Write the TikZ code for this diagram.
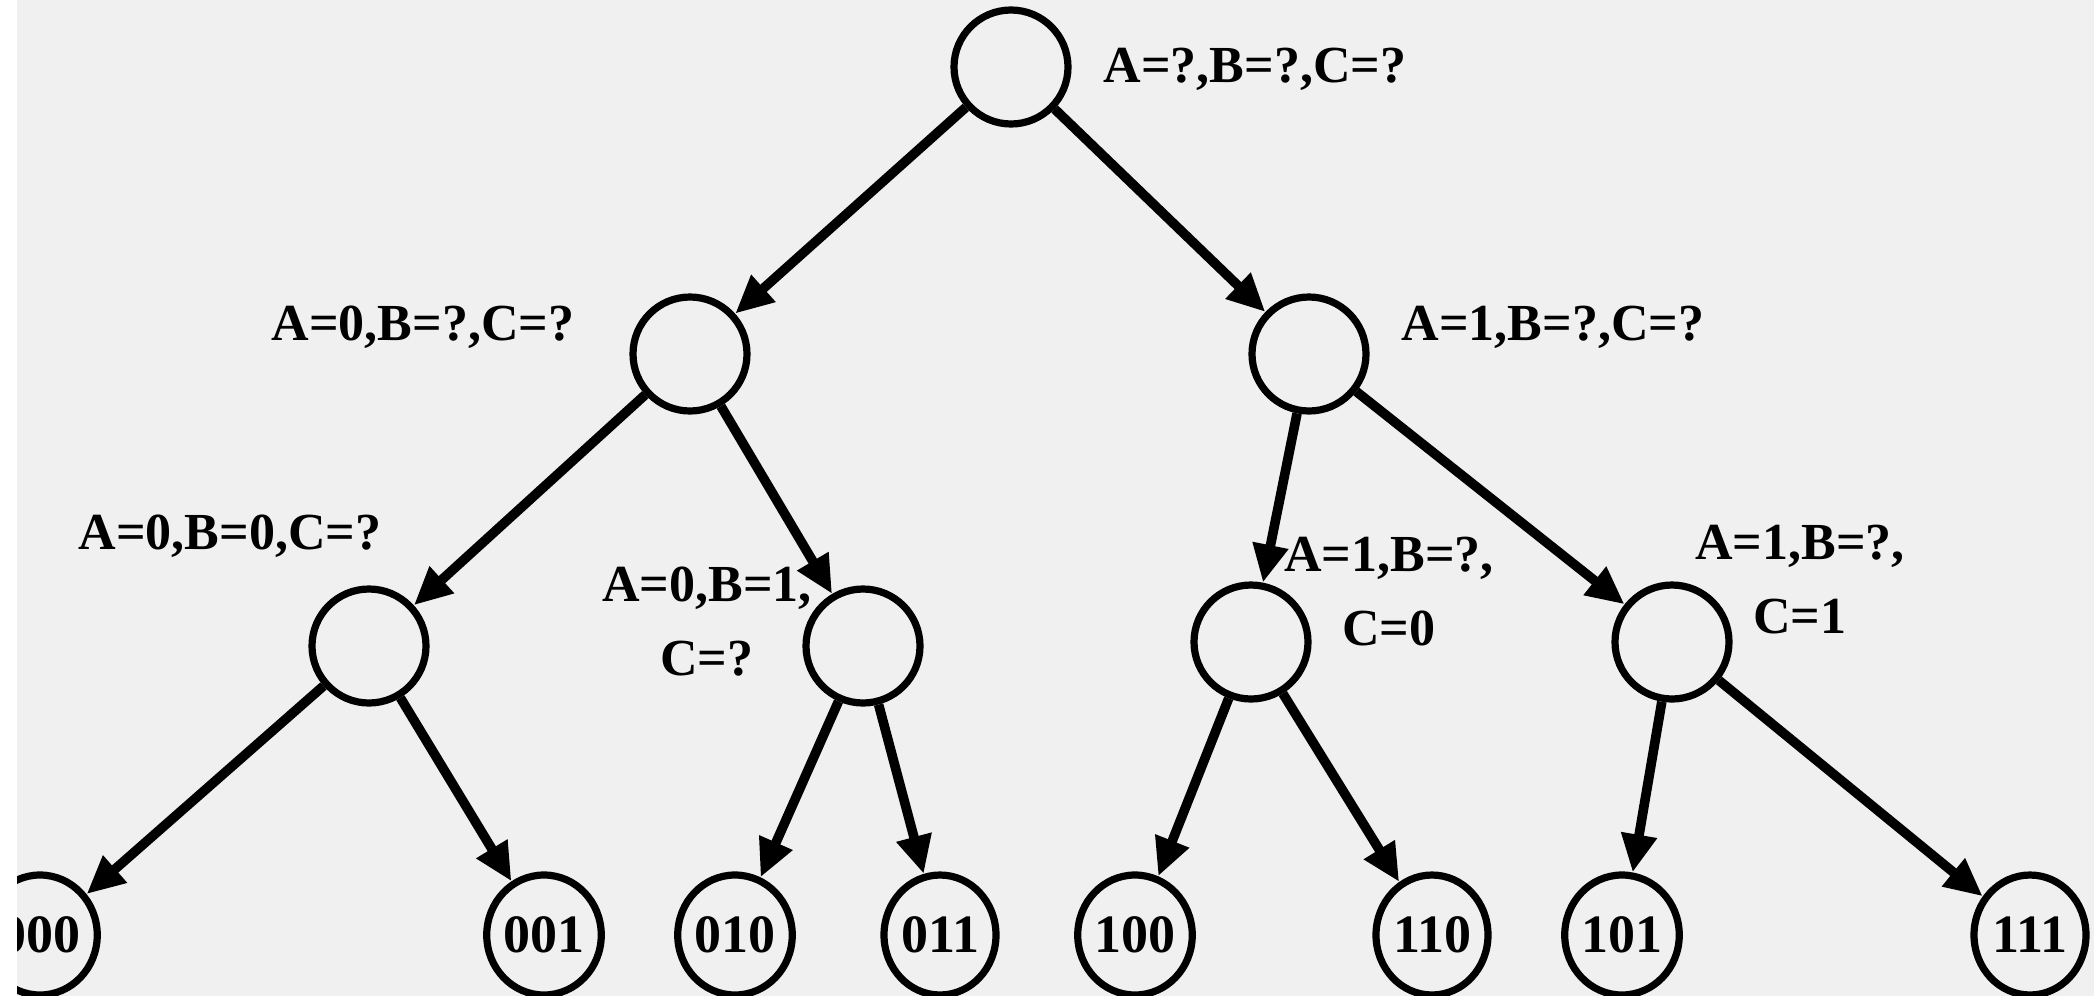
\documentclass[tikz,border=0pt]{standalone}
\usepackage{fontspec}
\setmainfont{Liberation Serif}
\usetikzlibrary{arrows.meta,shapes.geometric}
\definecolor{bg}{HTML}{F0F0F0}
\begin{document}
\begin{tikzpicture}[x=0.5pt,y=-0.5pt,
  inner/.style={circle,draw,line width=3.6pt,minimum size=57pt,inner sep=0pt},
  leaf/.style={ellipse,draw,line width=3.6pt,minimum width=56pt,minimum height=60pt,inner sep=0pt,font=\fontsize{27}{30}\selectfont\bfseries},
  lbl/.style={font=\fontsize{26}{37}\selectfont\bfseries,align=center,inner sep=0pt},
  edge/.style={-{Triangle[length=19pt,width=17pt]},line width=4.8pt}]
\useasboundingbox (0,0) rectangle (2094,996);
\fill[bg] (0,0) rectangle (2094,996);
\clip (0,0) rectangle (2094,996);
% inner nodes
\node[inner] (root) at (1011,67) {};
\node[inner] (a) at (690,354) {};
\node[inner] (b) at (1309,354) {};
\node[inner] (aa) at (369,646) {};
\node[inner] (ab) at (863,646) {};
\node[inner] (ba) at (1251,642) {};
\node[inner] (bb) at (1672,642) {};
% leaves
\node[leaf] (l000) at (40,935) {000};
\node[leaf] (l001) at (544,935) {001};
\node[leaf] (l010) at (735,935) {010};
\node[leaf] (l011) at (940,935) {011};
\node[leaf] (l100) at (1135,935) {100};
\node[leaf] (l110) at (1432,935) {110};
\node[leaf] (l101) at (1622,935) {101};
\node[leaf] (l111) at (2030,935) {111};
% labels
\node[lbl] (t0) at (1255,69) {A=?,B=?,C=?};
\node[lbl] (ta) at (423,327) {A=0,B=?,C=?};
\node[lbl] (tb) at (1553,327) {A=1,B=?,C=?};
\node[lbl] (taa) at (230,536) {A=0,B=0,C=?};
\node[lbl] (tab) at (707,622) {A=0,B=1,\\C=?};
\node[lbl] (tba) at (1389,592) {A=1,B=?,\\C=0};
\node[lbl] (tbb) at (1800,580) {A=1,B=?,\\C=1};
% edges
\draw[edge] (root) -- (a);
\draw[edge] (root) -- (b);
\draw[edge] (a) -- (aa);
\draw[edge] (a) -- (ab);
\draw[edge] (b) -- (ba);
\draw[edge] (b) -- (bb);
\draw[edge] (aa) -- (l000);
\draw[edge] (aa) -- (l001);
\draw[edge] (ab) -- (l010);
\draw[edge] (ab) -- (l011);
\draw[edge] (ba) -- (l100);
\draw[edge] (ba) -- (l110);
\draw[edge] (bb) -- (l101);
\draw[edge] (bb) -- (l111);
\fill[white] (0,0) rectangle (17,996);
\end{tikzpicture}
\end{document}
